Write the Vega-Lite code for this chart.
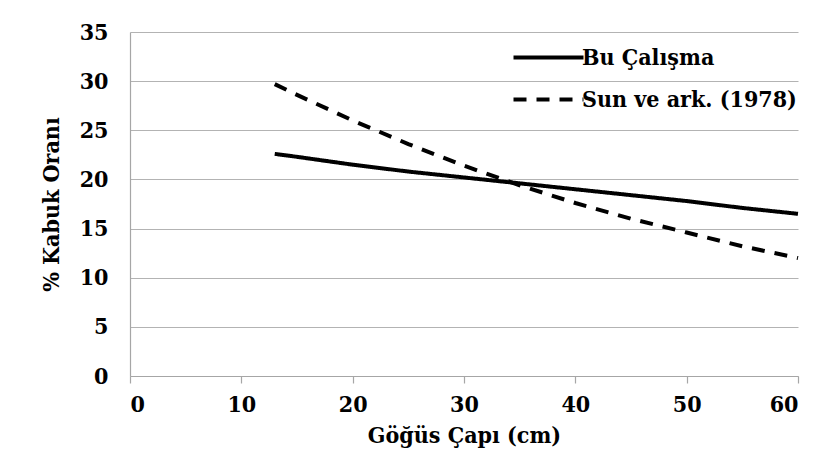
{
  "$schema": "https://vega.github.io/schema/vega-lite/v6.json",
  "width": 668,
  "height": 344,
  "autosize": {"type": "none"},
  "padding": {"left": 130, "top": 32, "right": 31, "bottom": 82},
  "background": "white",
  "config": {
    "font": "DejaVu Serif Condensed",
    "view": {"stroke": null},
    "axis": {
      "labelFont": "DejaVu Serif Condensed",
      "labelFontWeight": "bold",
      "labelFontSize": 23,
      "labelColor": "black",
      "titleFont": "DejaVu Serif Condensed",
      "titleFontWeight": "bold",
      "titleFontSize": 23,
      "titleColor": "black",
      "gridColor": "#b3b3b3",
      "gridWidth": 1.2,
      "domainColor": "#a6a6a6",
      "domainWidth": 1.2,
      "tickColor": "#a6a6a6",
      "tickWidth": 1.2
    },
    "legend": {
      "labelFont": "DejaVu Serif Condensed",
      "labelFontWeight": "bold",
      "labelFontSize": 23,
      "labelColor": "black",
      "labelLimit": 0
    }
  },
  "data": {
    "values": [
      {"dbh": 13, "bark": 22.6, "series": "Bu Çalışma"},
      {"dbh": 15, "bark": 22.3, "series": "Bu Çalışma"},
      {"dbh": 20, "bark": 21.5, "series": "Bu Çalışma"},
      {"dbh": 25, "bark": 20.8, "series": "Bu Çalışma"},
      {"dbh": 30, "bark": 20.2, "series": "Bu Çalışma"},
      {"dbh": 35, "bark": 19.6, "series": "Bu Çalışma"},
      {"dbh": 40, "bark": 19.0, "series": "Bu Çalışma"},
      {"dbh": 45, "bark": 18.4, "series": "Bu Çalışma"},
      {"dbh": 50, "bark": 17.8, "series": "Bu Çalışma"},
      {"dbh": 55, "bark": 17.1, "series": "Bu Çalışma"},
      {"dbh": 60, "bark": 16.5, "series": "Bu Çalışma"},
      {"dbh": 13, "bark": 29.7, "series": "Sun ve  ark. (1978)"},
      {"dbh": 15, "bark": 28.6, "series": "Sun ve  ark. (1978)"},
      {"dbh": 20, "bark": 26.0, "series": "Sun ve  ark. (1978)"},
      {"dbh": 25, "bark": 23.6, "series": "Sun ve  ark. (1978)"},
      {"dbh": 30, "bark": 21.4, "series": "Sun ve  ark. (1978)"},
      {"dbh": 35, "bark": 19.4, "series": "Sun ve  ark. (1978)"},
      {"dbh": 40, "bark": 17.6, "series": "Sun ve  ark. (1978)"},
      {"dbh": 45, "bark": 16.0, "series": "Sun ve  ark. (1978)"},
      {"dbh": 50, "bark": 14.6, "series": "Sun ve  ark. (1978)"},
      {"dbh": 55, "bark": 13.2, "series": "Sun ve  ark. (1978)"},
      {"dbh": 60, "bark": 12.0, "series": "Sun ve  ark. (1978)"}
    ]
  },
  "mark": {"type": "line", "color": "black", "strokeWidth": 4, "strokeCap": "butt"},
  "encoding": {
    "x": {
      "field": "dbh",
      "type": "quantitative",
      "scale": {"domain": [0, 60], "nice": false},
      "axis": {
        "title": "Göğüs Çapı (cm)",
        "values": [0, 10, 20, 30, 40, 50, 60],
        "grid": false,
        "tickSize": 7,
        "labelPadding": 10,
        "titlePadding": 8
      }
    },
    "y": {
      "field": "bark",
      "type": "quantitative",
      "scale": {"domain": [0, 35], "nice": false},
      "axis": {
        "title": "% Kabuk Oranı",
        "values": [0, 5, 10, 15, 20, 25, 30, 35],
        "ticks": false,
        "labelPadding": 22,
        "titlePadding": 16
      }
    },
    "strokeDash": {
      "field": "series",
      "type": "nominal",
      "scale": {"domain": ["Bu Çalışma", "Sun ve  ark. (1978)"], "range": [[1, 0], [13, 10]]},
      "legend": {
        "title": null,
        "orient": "none",
        "legendX": 407,
        "legendY": 14,
        "symbolType": "M-7,0H7",
        "symbolSize": 100,
        "symbolStrokeWidth": 4,
        "symbolStrokeColor": "black",
        "labelOffset": 22,
        "rowPadding": 18
      }
    }
  }
}
